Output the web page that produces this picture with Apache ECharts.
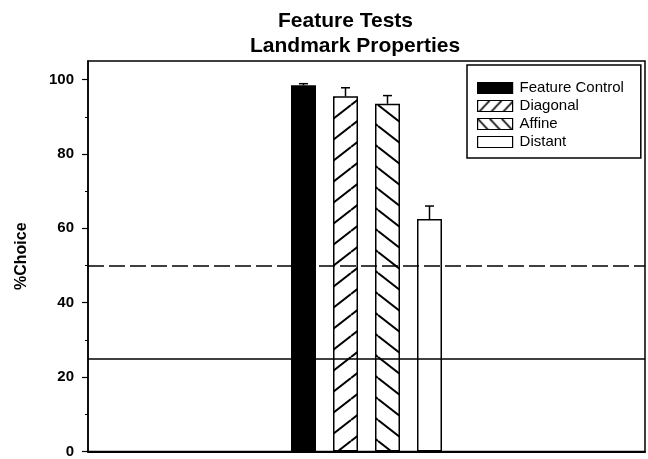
<!DOCTYPE html>
<html>
<head>
<meta charset="utf-8">
<script src="https://cdn.jsdelivr.net/npm/echarts@6/dist/echarts.min.js"></script>
<style>
  html, body { margin: 0; padding: 0; background: #fff; }
  #chart { width: 648px; height: 459px; }
</style>
</head>
<body>
<div id="chart"></div>
<script>
// Landmark-property feature tests: mean %choice with upper error bars
const conditions = ['Feature Control', 'Diagonal', 'Affine', 'Distant'];
const choicePct  = [98.5, 95.5, 93.5, 62.5];
const errorUpper = [0.4, 2.3, 2.2, 3.5];
const yTickValues  = [0, 20, 40, 60, 80, 100];
const yMinorValues = [10, 30, 50, 70, 90];
const chanceLevels = [50, 25];

const FONT = '"Liberation Sans", Arial, Helvetica, sans-serif';
const BAR_W = 25;
const BAR_GAP = 0.68;

// Hatch fill tiles: dir > 0 draws '/', dir < 0 draws '\'
function hatch(dir, w, h, lw) {
  const c = document.createElement('canvas');
  c.width = w; c.height = h;
  const g = c.getContext('2d');
  g.fillStyle = '#fff';
  g.fillRect(0, 0, w, h);
  g.strokeStyle = '#000';
  g.lineWidth = lw;
  for (let k = -1; k <= 1; k++) {
    g.beginPath();
    if (dir > 0) { g.moveTo(0, h + k * h); g.lineTo(w, k * h); }
    else { g.moveTo(0, k * h); g.lineTo(w, h + k * h); }
    g.stroke();
  }
  return { image: c, repeat: 'repeat' };
}

const fills = ['#000', hatch(1, 27, 21, 2), hatch(-1, 27, 21, 2), '#fff'];
// the small legend swatches use a tighter hatch
const legendFills = ['#000', hatch(1, 12, 13, 1.6), hatch(-1, 12, 13, 1.6), '#fff'];

const chart = echarts.init(document.getElementById('chart'), null, { renderer: 'canvas' });

const barSeries = conditions.map((name, i) => {
  const s = {
    name: name,
    type: 'bar',
    barWidth: BAR_W,
    barGap: (BAR_GAP * 100) + '%',
    data: [choicePct[i]],
    itemStyle: { color: fills[i], borderColor: '#000', borderWidth: 1.5 },
    emphasis: { disabled: true },
    animation: false
  };
  if (i === conditions.length - 1) {
    s.markLine = {
      silent: true,
      symbol: 'none',
      label: { show: false },
      animation: false,
      data: chanceLevels.map((v, k) => ({
        yAxis: v,
        lineStyle: { color: '#000', width: 1.6, type: k === 0 ? [16, 5] : 'solid' }
      }))
    };
  }
  return s;
});

const errorSeries = {
  type: 'custom',
  xAxisIndex: 0,
  yAxisIndex: 0,
  silent: true,
  animation: false,
  z: 3,
  data: conditions.map((n, i) => [0, choicePct[i], choicePct[i] + errorUpper[i], i]),
  renderItem: function (params, api) {
    const base = api.coord([0, api.value(1)]);
    const top = api.coord([0, api.value(2)]);
    const idx = api.value(3);
    const step = BAR_W * (1 + BAR_GAP);
    const x = base[0] + (idx - (conditions.length - 1) / 2) * step;
    const style = { stroke: '#000', lineWidth: 1.5, fill: null };
    return {
      type: 'group',
      children: [
        { type: 'line', shape: { x1: x, y1: base[1], x2: x, y2: top[1] }, style: style },
        { type: 'line', shape: { x1: x - 4.5, y1: top[1], x2: x + 4.5, y2: top[1] }, style: style }
      ]
    };
  }
};

chart.setOption({
  backgroundColor: '#fff',
  animation: false,
  title: [
    {
      text: 'Feature Tests',
      left: 278, top: 11, padding: 0,
      textStyle: { fontFamily: FONT, fontWeight: 'bold', fontSize: 21, color: '#000' }
    },
    {
      text: 'Landmark Properties',
      left: 250, top: 36, padding: 0,
      textStyle: { fontFamily: FONT, fontWeight: 'bold', fontSize: 21, color: '#000' }
    }
  ],
  legend: {
    orient: 'vertical',
    left: 467, top: 65,
    padding: [15, 17, 8, 10],
    backgroundColor: '#fff',
    borderColor: '#000',
    borderWidth: 1.5,
    borderRadius: 0,
    icon: 'rect',
    itemWidth: 35,
    itemHeight: 11,
    itemGap: 2,
    selectedMode: false,
    data: conditions.map((name, i) => ({
      name: name,
      itemStyle: { color: legendFills[i], borderColor: '#000', borderWidth: 1.2 }
    })),
    textStyle: { fontFamily: FONT, fontSize: 15, color: '#000', lineHeight: 16, padding: [0, 0, 0, 2] }
  },
  grid: {
    left: 88, right: 3, top: 61, bottom: 4,
    show: true,
    borderColor: '#000',
    borderWidth: 1.5,
    backgroundColor: 'transparent'
  },
  xAxis: {
    type: 'category',
    data: [''],
    axisLine: { show: true, lineStyle: { color: '#000', width: 2 } },
    axisTick: { show: false },
    axisLabel: { show: false },
    splitLine: { show: false }
  },
  yAxis: [
    {
      type: 'value',
      min: 0, max: 105, interval: 20,
      name: '%Choice',
      nameLocation: 'middle',
      nameGap: 58,
      nameRotate: 90,
      nameTextStyle: { fontFamily: FONT, fontWeight: 'bold', fontSize: 16, color: '#000' },
      axisLine: { show: true, lineStyle: { color: '#000', width: 1.5 } },
      axisTick: { show: true, length: 6, lineStyle: { color: '#000', width: 1.2 }, customValues: yTickValues },
      axisLabel: {
        margin: 14,
        fontFamily: FONT, fontWeight: 'bold', fontSize: 15, color: '#000',
        customValues: yTickValues
      },
      splitLine: { show: false }
    },
    {
      type: 'value',
      position: 'left',
      min: 0, max: 105, interval: 10,
      axisLine: { show: false },
      axisTick: { show: true, length: 3, lineStyle: { color: '#000', width: 1 }, customValues: yMinorValues },
      axisLabel: { show: false },
      splitLine: { show: false }
    }
  ],
  series: barSeries.concat([errorSeries])
});
</script>
</body>
</html>
